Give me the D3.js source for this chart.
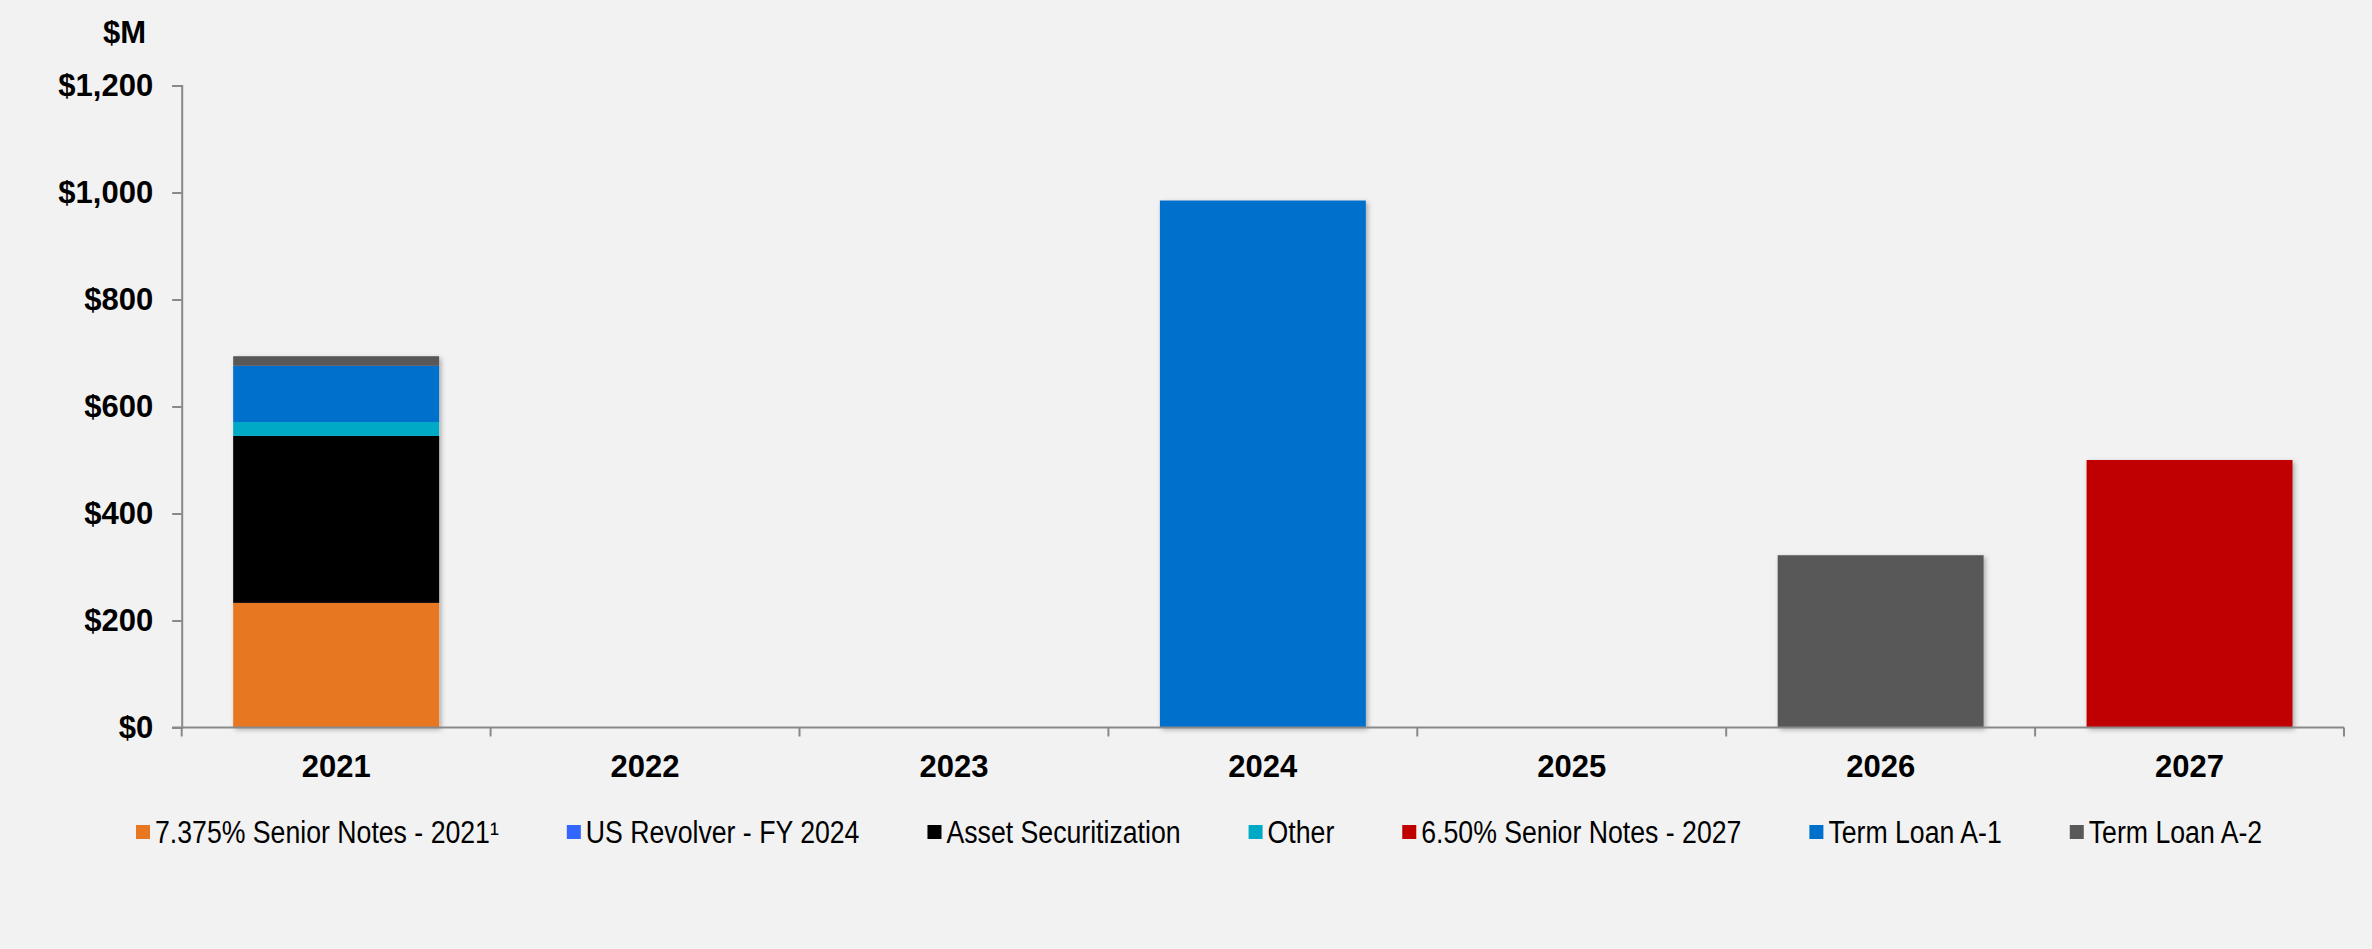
<!DOCTYPE html>
<html>
<head>
<meta charset="utf-8">
<script src="https://cdn.jsdelivr.net/npm/d3@7"></script>
<style>
    html, body { margin: 0; padding: 0; background: #f2f2f2; }
    svg { display: block; }
    text { font-family: "Liberation Sans", Arial, sans-serif; fill: #000; }
</style>
</head>
<body>
<div id="chart"></div>
<script>
// years on the x axis
const years = ["2021", "2022", "2023", "2024", "2025", "2026", "2027"];

// maturities per series, $M
const seniorNotes2021 = [233, 0, 0, 0, 0, 0, 0];
const usRevolver = [0, 0, 0, 0, 0, 0, 0];
const assetSecuritization = [312, 0, 0, 0, 0, 0, 0];
const other = [26, 0, 0, 0, 0, 0, 0];
const seniorNotes2027 = [0, 0, 0, 0, 0, 0, 500];
const termLoanA1 = [105, 0, 0, 985, 0, 0, 0];
const termLoanA2 = [18, 0, 0, 0, 0, 322, 0];

const seriesNames = [
    "7.375% Senior Notes - 2021\u00b9",
    "US Revolver - FY 2024",
    "Asset Securitization",
    "Other",
    "6.50% Senior Notes - 2027",
    "Term Loan A-1",
    "Term Loan A-2"
];
const seriesValues = [seniorNotes2021, usRevolver, assetSecuritization, other, seniorNotes2027, termLoanA1, termLoanA2];
const seriesColors = ["#e87722", "#3366ff", "#000000", "#00aac6", "#c00000", "#0070cd", "#595959"];

const yTicks = [0, 200, 400, 600, 800, 1000, 1200];

const width = 2372;
const height = 949;
const margin = { top: 85.5, right: 28, bottom: 221.5, left: 181.7 };

// build table for d3.stack
const table = years.map((yr, i) => {
    const row = { year: yr };
    seriesNames.forEach((name, j) => { row[name] = seriesValues[j][i]; });
    return row;
});

const svg = d3.select("#chart").append("svg")
    .attr("width", width)
    .attr("height", height);

svg.append("rect")
    .attr("width", width)
    .attr("height", height)
    .attr("fill", "#f2f2f2");

const defs = svg.append("defs");
const shadow = defs.append("filter")
    .attr("id", "shadow")
    .attr("x", "-10%").attr("y", "-10%")
    .attr("width", "130%").attr("height", "130%");
shadow.append("feDropShadow")
    .attr("dx", 2).attr("dy", 2)
    .attr("stdDeviation", 2.5)
    .attr("flood-color", "#000")
    .attr("flood-opacity", 0.3);

const x = d3.scaleBand()
    .domain(years)
    .range([margin.left, width - margin.right])
    .paddingInner(1 / 3)
    .paddingOuter(1 / 6);

const y = d3.scaleLinear()
    .domain([0, 1200])
    .range([height - margin.bottom, margin.top]);

const stack = d3.stack().keys(seriesNames);
const layers = stack(table);

// bars
const barGroup = svg.append("g");
years.forEach((yr, i) => {
    const segs = layers.map((layer, j) => ({ d: layer[i], color: seriesColors[j] }))
        .filter(s => s.d[1] - s.d[0] > 0);
    if (!segs.length) return;
    const g = barGroup.append("g").attr("filter", "url(#shadow)");
    g.selectAll("rect")
        .data(segs)
        .enter().append("rect")
        .attr("x", x(yr))
        .attr("width", x.bandwidth())
        .attr("y", s => y(s.d[1]))
        .attr("height", s => y(s.d[0]) - y(s.d[1]))
        .attr("fill", s => s.color);
});

// y axis
const yAxis = svg.append("g")
    .attr("transform", `translate(${margin.left},0)`)
    .call(d3.axisLeft(y).tickValues(yTicks).tickSize(9.5).tickPadding(19)
        .tickFormat(d => "$" + d3.format(",")(d)));
yAxis.selectAll("line, path").attr("stroke", "#898989").attr("stroke-width", 2);
yAxis.selectAll("text")
    .attr("font-size", 31)
    .attr("font-weight", "bold")
    .attr("font-family", "Liberation Sans, Arial, sans-serif")
    .attr("fill", "#000");

// x axis: ticks at category boundaries
const bounds = years.map(yr => x(yr) - x.step() * x.paddingInner() / 2)
    .concat([width - margin.right]);
const xg = svg.append("g");
xg.append("line")
    .attr("x1", margin.left - 9.5)
    .attr("x2", width - margin.right)
    .attr("y1", y(0)).attr("y2", y(0))
    .attr("stroke", "#898989").attr("stroke-width", 2);
xg.selectAll(".tick")
    .data(bounds)
    .enter().append("line")
    .attr("x1", d => d).attr("x2", d => d)
    .attr("y1", y(0)).attr("y2", y(0) + 9)
    .attr("stroke", "#898989").attr("stroke-width", 2);
xg.selectAll(".lbl")
    .data(years)
    .enter().append("text")
    .attr("x", d => x(d) + x.bandwidth() / 2)
    .attr("y", y(0) + 49)
    .attr("text-anchor", "middle")
    .attr("font-size", 31)
    .attr("font-weight", "bold")
    .text(d => d);

// unit label
svg.append("text")
    .attr("x", 146)
    .attr("y", 43)
    .attr("text-anchor", "end")
    .attr("font-size", 31)
    .attr("font-weight", "bold")
    .text("$M");

// legend, laid out left to right
const legend = svg.append("g");
const legendY = 832;
const squareSize = 14;
const legendGap = 68;
const compress = 0.86;
let cursor = 136;
seriesNames.forEach((name, j) => {
    legend.append("rect")
        .attr("x", cursor)
        .attr("y", legendY - squareSize / 2)
        .attr("width", squareSize)
        .attr("height", squareSize)
        .attr("fill", seriesColors[j]);
    const t = legend.append("text")
        .attr("x", cursor + squareSize + 5)
        .attr("y", legendY + 11)
        .attr("font-size", 31)
        .text(name);
    const w = t.node().getComputedTextLength() * compress;
    t.attr("textLength", w).attr("lengthAdjust", "spacingAndGlyphs");
    cursor += squareSize + 5 + w + legendGap;
});
</script>
</body>
</html>
